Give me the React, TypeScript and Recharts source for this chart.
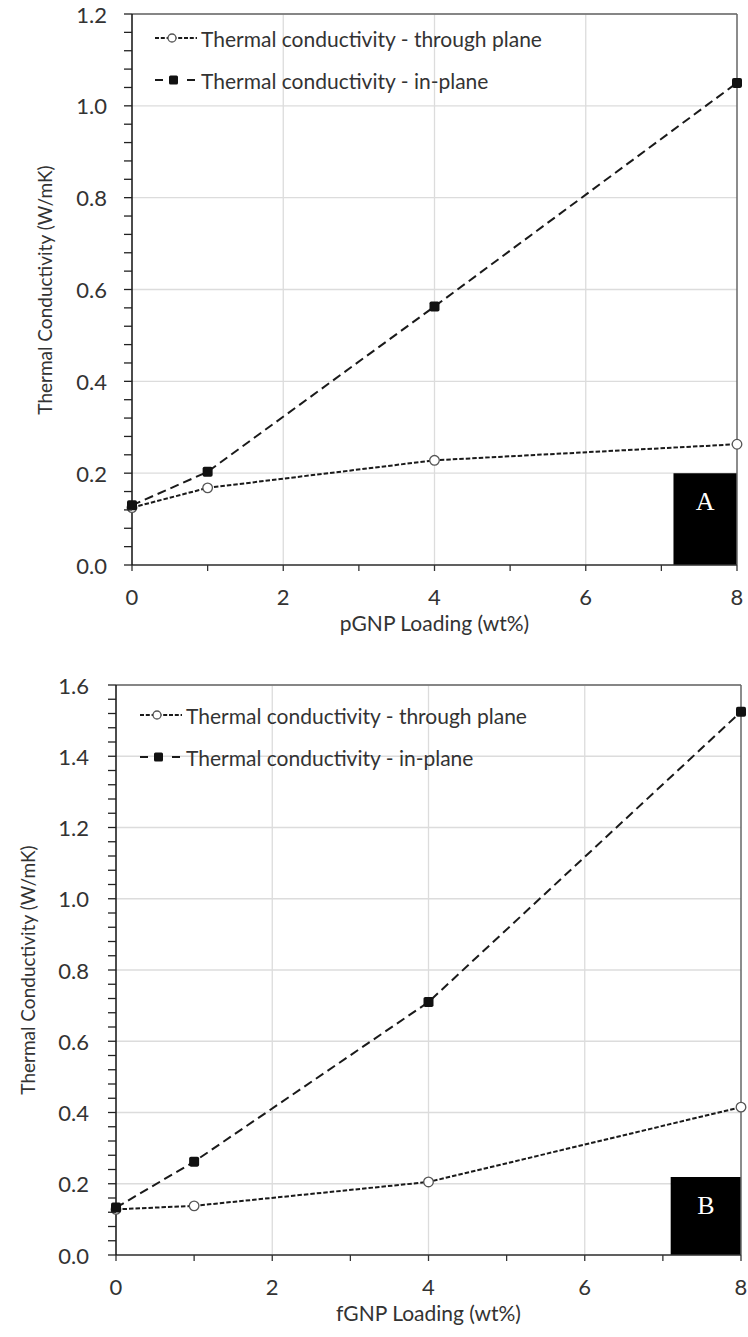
import * as React from "react";
import {
  LineChart,
  Line,
  XAxis,
  YAxis,
  CartesianGrid,
  ReferenceArea,
  ReferenceLine,
  Label,
} from "recharts";

// wt% loading of GNP
const LOADING = [0, 1, 4, 8];

// panel A – pGNP
const PGNP_THROUGH = [0.125, 0.168, 0.228, 0.263];
const PGNP_IN_PLANE = [0.13, 0.203, 0.563, 1.05];

// panel B – fGNP
const FGNP_THROUGH = [0.128, 0.138, 0.205, 0.415];
const FGNP_IN_PLANE = [0.133, 0.262, 0.71, 1.525];

const X_TICKS = [0, 1, 2, 3, 4, 5, 6, 7, 8];
const X_LABELS = [0, 2, 4, 6, 8];
const X_GRID = [2, 4, 6];
const PGNP_Y_LABELS = [0, 0.2, 0.4, 0.6, 0.8, 1.0, 1.2];
const FGNP_Y_LABELS = [0, 0.2, 0.4, 0.6, 0.8, 1.0, 1.2, 1.4, 1.6];

const SERIES_THROUGH = "Thermal conductivity - through plane";
const SERIES_IN = "Thermal conductivity - in-plane";
const Y_TITLE = "Thermal Conductivity (W/mK)";

const FONT = "Lato, 'Open Sans', sans-serif";
const TEXT = "#333";
const LINE = "#1a1a1a";
const DASH_THROUGH = "4.5 2";
const DASH_IN = "9 5";
const CHART_W = 748;

// minor ticks: 4 between each labelled tick
function withMinor(labels: number[]) {
  const out: number[] = [];
  for (let i = 0; i < labels.length - 1; i++) {
    const step = (labels[i + 1] - labels[i]) / 5;
    for (let k = 0; k < 5; k++) out.push(+(labels[i] + k * step).toFixed(4));
  }
  out.push(labels[labels.length - 1]);
  return out;
}

const CircleDot = (p: any) => {
  if (p.cx == null || p.cy == null) return <g key={`c${p.index}`} />;
  return (
    <circle key={`c${p.index}`} cx={p.cx} cy={p.cy} r={4.8} fill="#fff" stroke="#555" strokeWidth={1.3} />
  );
};

const SquareDot = (p: any) => {
  if (p.cx == null || p.cy == null) return <g key={`s${p.index}`} />;
  return (
    <rect key={`s${p.index}`} x={p.cx - 5} y={p.cy - 5} width={10} height={10} rx={1.8} fill="#111" />
  );
};

interface PanelProps {
  through: number[];
  inPlane: number[];
  yLabels: number[];
  xTitle: string;
  letter: string;
  boxX1: number;
  boxY2: number;
  height: number;
  top: number;
  right: number;
  yAxisWidth: number;
  xAxisHeight: number;
  yLabelGap: number;
  yTitleX: number;
  legendLeft: number;
  legendRows: [number, number];
  letterDy: number;
}

function Panel(props: PanelProps) {
  const {
    through, inPlane, yLabels, xTitle, letter, boxX1, boxY2,
    height, top, right, yAxisWidth, xAxisHeight, yLabelGap, yTitleX,
    legendLeft, legendRows, letterDy,
  } = props;

  const yMax = yLabels[yLabels.length - 1];
  const data = LOADING.map((x, i) => ({ x, through: through[i], inPlane: inPlane[i] }));
  const yTicks = withMinor(yLabels);
  const plotBottom = height - xAxisHeight;
  const plotCenterX = yAxisWidth + (CHART_W - yAxisWidth - right) / 2;
  const plotCenterY = (top + plotBottom) / 2;

  const YTick = ({ x, y, payload }: any) => {
    const v = payload.value as number;
    const major = Math.abs(v * 5 - Math.round(v * 5)) < 1e-6;
    return (
      <g>
        <line x1={x - 8} x2={x} y1={y} y2={y} stroke="#222" strokeWidth={1.3} />
        {major && (
          <text x={x - yLabelGap} y={y} textAnchor="end" dominantBaseline="central" fontSize={22} fill={TEXT} fontFamily={FONT}>
            {v.toFixed(1)}
          </text>
        )}
      </g>
    );
  };

  const XTick = ({ x, y, payload }: any) => {
    const v = payload.value as number;
    return (
      <g>
        <line x1={x} x2={x} y1={y} y2={y + 6} stroke="#333" strokeWidth={1.3} />
        {X_LABELS.includes(v) && (
          <text x={x} y={y + 31} textAnchor="middle" dominantBaseline="central" fontSize={22} fill={TEXT} fontFamily={FONT}>
            {v}
          </text>
        )}
      </g>
    );
  };

  return (
    <div style={{ position: "relative", width: CHART_W, height }}>
      <LineChart width={CHART_W} height={height} data={data} margin={{ top, right, bottom: 0, left: 0 }}>
        <CartesianGrid
          stroke="#dcdcdc"
          strokeWidth={1.3}
          horizontalValues={yLabels}
          verticalValues={X_GRID}
        />
        <XAxis
          dataKey="x"
          type="number"
          domain={[0, 8]}
          ticks={X_TICKS}
          interval={0}
          height={xAxisHeight}
          tickSize={0}
          tickMargin={0}
          tick={<XTick />}
          axisLine={{ stroke: "#333", strokeWidth: 1.5 }}
        />
        <YAxis
          type="number"
          domain={[0, yMax]}
          ticks={yTicks}
          interval={0}
          width={yAxisWidth}
          tickSize={0}
          tickMargin={0}
          tick={<YTick />}
          axisLine={{ stroke: "#111", strokeWidth: 1.5 }}
        />
        <ReferenceLine y={yMax} stroke="#666" strokeWidth={1.5} />
        <ReferenceLine x={8} stroke="#666" strokeWidth={1.5} />
        <ReferenceArea x1={boxX1} x2={8} y1={0} y2={boxY2} fill="#000" fillOpacity={1} stroke="none" ifOverflow="visible">
          <Label
            content={({ viewBox }: any) => (
              <text
                x={viewBox.x + viewBox.width / 2}
                y={viewBox.y + letterDy}
                textAnchor="middle"
                dominantBaseline="central"
                fontSize={26}
                fill="#fff"
                fontFamily="'Liberation Serif', 'Times New Roman', serif"
              >
                {letter}
              </text>
            )}
          />
        </ReferenceArea>
        <Line
          dataKey="through"
          name={SERIES_THROUGH}
          type="linear"
          stroke={LINE}
          strokeWidth={2}
          strokeDasharray={DASH_THROUGH}
          dot={CircleDot}
          activeDot={false}
          isAnimationActive={false}
        />
        <Line
          dataKey="inPlane"
          name={SERIES_IN}
          type="linear"
          stroke={LINE}
          strokeWidth={2}
          strokeDasharray={DASH_IN}
          dot={SquareDot}
          activeDot={false}
          isAnimationActive={false}
        />
      </LineChart>

      {/* axis titles */}
      <div
        style={{
          position: "absolute",
          left: plotCenterX - 200,
          width: 400,
          top: plotBottom + 58 - 14,
          height: 28,
          lineHeight: "28px",
          textAlign: "center",
          fontFamily: FONT,
          fontSize: 21,
          color: TEXT,
        }}
      >
        {xTitle}
      </div>
      <div
        style={{
          position: "absolute",
          left: yTitleX - 200,
          width: 400,
          top: plotCenterY - 14,
          height: 28,
          lineHeight: "28px",
          textAlign: "center",
          fontFamily: FONT,
          fontSize: 19,
          color: TEXT,
          transform: "rotate(-90deg)",
          whiteSpace: "nowrap",
        }}
      >
        {Y_TITLE}
      </div>

      {/* legend sits inside the plot, no box */}
      {[SERIES_THROUGH, SERIES_IN].map((name, i) => (
        <div
          key={name}
          style={{
            position: "absolute",
            left: legendLeft,
            top: legendRows[i] - 13,
            height: 26,
            display: "flex",
            alignItems: "center",
            fontFamily: FONT,
            fontSize: 21,
            color: TEXT,
            whiteSpace: "nowrap",
          }}
        >
          <svg width={44} height={14} style={{ marginRight: 2 }}>
            {i === 0 ? (
              <>
                <line x1={0} x2={42} y1={7} y2={7} stroke={LINE} strokeWidth={2} strokeDasharray="4 1.8" />
                <circle cx={17} cy={7} r={4} fill="#fff" stroke="#555" strokeWidth={1.3} />
              </>
            ) : (
              <>
                <line x1={0} x2={8} y1={7} y2={7} stroke={LINE} strokeWidth={2} />
                <line x1={32} x2={40} y1={7} y2={7} stroke={LINE} strokeWidth={2} />
                <rect x={14} y={2.5} width={9} height={9} rx={1.5} fill="#111" />
              </>
            )}
          </svg>
          <span>{name}</span>
        </div>
      ))}
    </div>
  );
}

export default function App() {
  return (
    <div style={{ position: "absolute", left: 0, top: 0, width: CHART_W, height: 1337, background: "#fff" }}>
      <div style={{ position: "absolute", left: 0, top: 0 }}>
        <Panel
          through={PGNP_THROUGH}
          inPlane={PGNP_IN_PLANE}
          yLabels={PGNP_Y_LABELS}
          xTitle="pGNP Loading (wt%)"
          letter="A"
          boxX1={7.16}
          boxY2={0.2}
          height={645}
          top={14}
          right={11}
          yAxisWidth={132}
          xAxisHeight={80}
          yLabelGap={25}
          yTitleX={45}
          legendLeft={155}
          legendRows={[38, 80]}
          letterDy={28}
        />
      </div>
      <div style={{ position: "absolute", left: 0, top: 645 }}>
        <Panel
          through={FGNP_THROUGH}
          inPlane={FGNP_IN_PLANE}
          yLabels={FGNP_Y_LABELS}
          xTitle="fGNP Loading (wt%)"
          letter="B"
          boxX1={7.1}
          boxY2={0.219}
          height={692}
          top={40}
          right={7}
          yAxisWidth={116}
          xAxisHeight={82}
          yLabelGap={27}
          yTitleX={28}
          legendLeft={140}
          legendRows={[70, 112]}
          letterDy={29}
        />
      </div>
    </div>
  );
}
